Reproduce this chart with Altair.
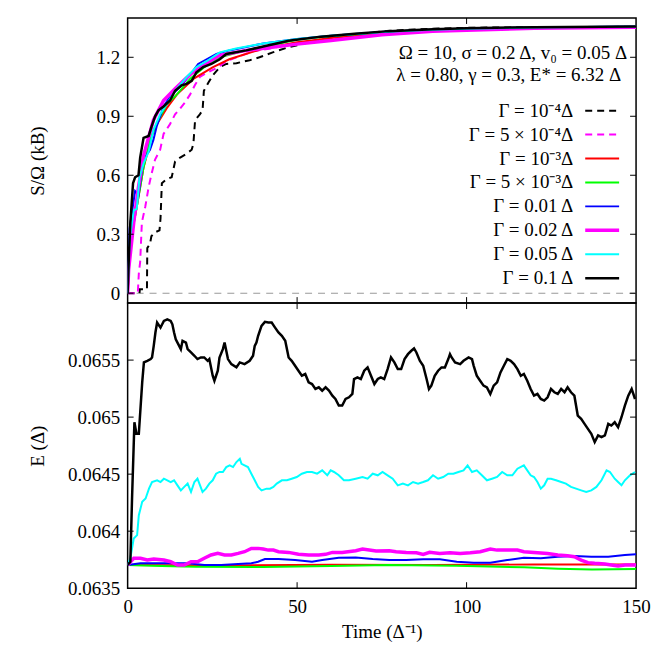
import altair as alt
import pandas as pd

FONT = "Liberation Serif"
FS = 19

# ---------------- Top panel: S/Omega (k_B) ----------------
t_s_g1 = [0, 3.5, 3.6, 5.7, 5.8, 6.6, 7.0, 8.1, 9.4, 9.7, 10.1, 11.5, 13.0, 13.5, 14.0, 15.5, 17.4, 18.9, 19.4, 19.9,
          21.3, 22.1, 22.5, 23.8, 25.2, 27.2, 29.1, 32.1, 36, 38.9, 42.8, 46.7, 57.4, 67.3, 77.2, 90, 100, 120, 150]
s_g1 = [0, 0, 0.02, 0.02, 0.23, 0.25, 0.29, 0.31, 0.32, 0.38, 0.56, 0.58, 0.59, 0.63, 0.67, 0.69, 0.71, 0.73, 0.76, 0.88,
        0.91, 0.93, 1.03, 1.07, 1.11, 1.15, 1.166, 1.17, 1.185, 1.2, 1.225, 1.247, 1.293, 1.318, 1.335, 1.345, 1.35, 1.353, 1.355]

t_s_g2 = [0, 3.0, 3.3, 3.7, 4.2, 5.2, 6.2, 7.1, 8.1, 9.6, 10.6, 12.5, 14.0, 15.5, 16.9, 18.4, 19.9, 21.3, 23.3, 26.2,
          29.1, 33, 37, 42, 47.5, 57.4, 67, 77.2, 90, 100, 120, 150]
s_g2 = [0, 0, 0.10, 0.16, 0.36, 0.44, 0.54, 0.61, 0.68, 0.73, 0.81, 0.86, 0.91, 0.94, 0.97, 1.01, 1.06, 1.10, 1.12, 1.145,
        1.18, 1.205, 1.23, 1.245, 1.262, 1.284, 1.305, 1.32, 1.335, 1.34, 1.348, 1.352]

t_s_g3 = [0, 0.8, 2.7, 4.7, 7.6, 11.5, 14.5, 19.4, 25.2, 30, 40, 50, 60, 75, 90, 100, 120, 150]
s_g3 = [0, 0.27, 0.44, 0.64, 0.83, 0.94, 1.01, 1.09, 1.15, 1.19, 1.245, 1.276, 1.298, 1.322, 1.335, 1.341, 1.349, 1.354]

t_s_g4 = [0, 0.8, 2.7, 4.7, 6.6, 8.6, 11.5, 14.5, 18.4, 23.3, 27.2, 35, 42, 50, 60, 75, 90, 100, 120, 150]
s_g4 = [0, 0.26, 0.44, 0.64, 0.78, 0.86, 0.96, 1.01, 1.09, 1.16, 1.20, 1.235, 1.26, 1.29, 1.308, 1.326, 1.338, 1.344, 1.351, 1.355]

t_s_g5 = [0, 0.6, 2.2, 3.2, 4.7, 6.6, 7.6, 8.6, 10.6, 12.5, 15.5, 18.4, 20.8, 23.3, 26.2, 30, 40, 50, 60, 75, 90, 100, 120, 150]
s_g5 = [0, 0.33, 0.52, 0.50, 0.68, 0.73, 0.78, 0.85, 0.95, 1.0, 1.05, 1.11, 1.166, 1.19, 1.217, 1.235, 1.27, 1.293, 1.31, 1.328,
        1.34, 1.345, 1.352, 1.356]

t_s_g6 = [0, 0.3, 1.8, 3.2, 4.7, 7.6, 10.6, 14.0, 17.0, 19.0, 22.3, 27.2, 35, 42, 50, 60, 75, 90, 100, 120, 150]
s_g6 = [0, 0.12, 0.36, 0.54, 0.70, 0.88, 0.98, 1.04, 1.09, 1.12, 1.16, 1.21, 1.235, 1.25, 1.267, 1.285, 1.315, 1.332, 1.338,
        1.347, 1.353]

t_s_g7 = [0, 0.4, 0.8, 1.8, 2.7, 3.5, 4.7, 6.2, 7.6, 9.6, 11.5, 14.0, 17.4, 20.3, 23.3, 27.2, 32, 40, 50, 60, 75, 90, 100, 120, 150]
s_g7 = [0, 0.2, 0.3, 0.42, 0.43, 0.59, 0.66, 0.72, 0.83, 0.91, 0.96, 1.03, 1.10, 1.15, 1.18, 1.225, 1.245, 1.27, 1.293, 1.31,
        1.328, 1.34, 1.345, 1.352, 1.356]

t_s_g8 = [0, 0.4, 0.8, 1.6, 2.2, 3.2, 3.7, 4.7, 6.2, 7.1, 8.1, 9.1, 10.6, 12.5, 14.0, 15.9, 17.4, 18.9, 20.3, 22.3, 24.7,
          27.2, 29.1, 35, 40, 47.5, 57, 67, 77, 90, 100, 120, 150]
s_g8 = [0, 0.2, 0.36, 0.56, 0.59, 0.60, 0.69, 0.79, 0.80, 0.85, 0.90, 0.93, 0.95, 0.98, 1.03, 1.057, 1.065, 1.08, 1.124, 1.15,
        1.166, 1.19, 1.217, 1.235, 1.255, 1.284, 1.305, 1.32, 1.333, 1.343, 1.348, 1.353, 1.356]

# ---------------- Bottom panel: E (Delta) ----------------
t_e_g3 = [0, 30, 60, 90, 120, 150]
e_g3 = [0.063703, 0.063700, 0.063705, 0.063703, 0.063708, 0.063708]

t_e_g4 = [0, 10, 20, 40, 60, 77, 97, 117, 127, 137, 150]
e_g4 = [0.063703, 0.063694, 0.063689, 0.063686, 0.063694, 0.063703, 0.063697, 0.063683, 0.063671, 0.063665, 0.063668]

t_e_g5 = [0, 3.8, 7.7, 12.7, 17.7, 22.6, 27.6, 32.6, 36.5, 38.5, 40.5, 44.5, 49.4, 54.4, 57.4, 62.3, 67.3, 72.3, 77.2,
          82.2, 87.2, 92.1, 97.1, 102.1, 107.0, 112.0, 116.9, 121.9, 126.9, 131.8, 136.8, 141.8, 146.7, 150]
e_g5 = [0.063703, 0.063718, 0.063718, 0.063718, 0.063718, 0.063703, 0.063703, 0.063712, 0.063718, 0.063732, 0.063756,
        0.063756, 0.063747, 0.063732, 0.063747, 0.063767, 0.063770, 0.063756, 0.063747, 0.063747, 0.063753, 0.063753,
        0.063732, 0.063724, 0.063724, 0.063747, 0.063767, 0.063762, 0.063776, 0.063782, 0.063776, 0.063776, 0.063791,
        0.063797]

t_e_g6 = [0, 1.8, 3.8, 5.8, 7.7, 10.7, 12.7, 14.7, 16.7, 18.7, 20.6, 22.6, 24.6, 26.6, 28.6, 30.6, 32.6, 34.5, 36.5,
          38.5, 40.0, 41.5, 43.0, 44.5, 47.5, 50.4, 53.4, 56.4, 58.4, 60.4, 63.3, 67.3, 69.3, 73.3, 77.2, 79.2, 82.2,
          85.2, 87.2, 89.1, 92.1, 95.1, 98.1, 101.1, 104.0, 107.0, 109.0, 112.0, 115.0, 116.9, 120.9, 123.9, 126.9,
          129.8, 131.8, 133.8, 135.8, 137.8, 140.8, 142.7, 144.7, 146.7, 150]
e_g6 = [0.063703, 0.063762, 0.063762, 0.063747, 0.063756, 0.063747, 0.063732, 0.063703, 0.063703, 0.063732, 0.063732,
        0.063762, 0.063791, 0.063805, 0.063791, 0.063791, 0.063805, 0.063820, 0.063849, 0.063849, 0.063843, 0.063834,
        0.063834, 0.063820, 0.063814, 0.063797, 0.063791, 0.063791, 0.063797, 0.063814, 0.063814, 0.063829, 0.063843,
        0.063826, 0.063829, 0.063820, 0.063814, 0.063811, 0.063797, 0.063814, 0.063805, 0.063811, 0.063805, 0.063811,
        0.063820, 0.063843, 0.063834, 0.063834, 0.063834, 0.063820, 0.063811, 0.063805, 0.063791, 0.063785, 0.063776,
        0.063747, 0.063724, 0.063718, 0.063712, 0.063703, 0.063694, 0.063703, 0.063703]

t_e_g7 = [0, 0.8, 1.8, 2.8, 3.3, 4.3, 5.3, 6.3, 7.2, 8.7, 9.7, 10.7, 11.7, 12.7, 13.7, 14.7, 15.7, 16.7, 17.7, 18.7,
          19.7, 20.6, 22.1, 23.1, 24.1, 25.1, 26.1, 27.1, 28.1, 29.1, 30.1, 31.1, 32.1, 33.1, 33.6, 34.5, 35.5, 36.5,
          37.5, 38.5, 39.5, 41.0, 42.0, 43.0, 44.0, 45.5, 47.0, 48.4, 49.9, 51.4, 52.9, 54.4, 55.9, 57.4, 58.9, 59.9,
          60.9, 62.3, 63.8, 65.3, 67.3, 69.3, 70.8, 72.3, 73.8, 75.2, 76.7, 78.2, 79.7, 81.2, 82.7, 84.2, 85.7, 87.2,
          88.6, 90.1, 91.6, 93.1, 94.6, 96.1, 97.6, 99.1, 100.3, 101.6, 103.0, 104.5, 106.0, 107.5, 109.0, 110.5, 112.0,
          113.5, 115.0, 116.9, 117.9, 118.9, 119.9, 120.9, 121.9, 122.9, 123.9, 124.9, 126.4, 127.9, 129.3, 130.8,
          132.3, 133.8, 135.3, 136.8, 138.3, 139.8, 141.3, 142.3, 143.7, 144.7, 145.7, 146.7, 148.2, 149.7]
e_g7 = [0.063703, 0.063762, 0.063936, 0.063965, 0.064140, 0.064257, 0.064286, 0.064373, 0.064431, 0.064446, 0.064431,
        0.064460, 0.064446, 0.064431, 0.064446, 0.064402, 0.064358, 0.064388, 0.064417, 0.064344, 0.064431, 0.064460,
        0.064344, 0.064373, 0.064417, 0.064446, 0.064504, 0.064519, 0.064519, 0.064562, 0.064577, 0.064562, 0.064606,
        0.064635, 0.064591, 0.064577, 0.064562, 0.064504, 0.064446, 0.064388, 0.064358, 0.064373, 0.064373, 0.064388,
        0.064417, 0.064446, 0.064446, 0.064460, 0.064475, 0.064504, 0.064519, 0.064519, 0.064504, 0.064533, 0.064490,
        0.064533, 0.064519, 0.064490, 0.064446, 0.064446, 0.064460, 0.064475, 0.064460, 0.064504, 0.064490, 0.064519,
        0.064490, 0.064460, 0.064402, 0.064417, 0.064402, 0.064431, 0.064417, 0.064431, 0.064446, 0.064490, 0.064460,
        0.064475, 0.064504, 0.064504, 0.064519, 0.064533, 0.064577, 0.064519, 0.064533, 0.064490, 0.064446, 0.064460,
        0.064475, 0.064519, 0.064490, 0.064490, 0.064548, 0.064577, 0.064533, 0.064490, 0.064475, 0.064431, 0.064373,
        0.064402, 0.064460, 0.064460, 0.064446, 0.064431, 0.064417, 0.064388, 0.064373, 0.064358, 0.064344, 0.064358,
        0.064388, 0.064446, 0.064533, 0.064519, 0.064460, 0.064431, 0.064402, 0.064446, 0.064490, 0.064519]

t_e_g8 = [0, 0.8, 1.3, 2.0, 2.6, 3.3, 4.3, 4.8, 5.8, 6.8, 7.2, 7.7, 8.2, 8.7, 9.7, 10.2, 10.7, 11.7, 12.7, 13.2, 13.7,
          14.2, 15.2, 15.7, 16.2, 17.2, 17.7, 18.7, 19.7, 20.6, 21.6, 22.6, 23.6, 24.1, 25.1, 25.6, 26.6, 27.1, 28.1,
          28.6, 29.6, 30.6, 32.1, 33.1, 34.5, 36.0, 37.0, 37.5, 38.0, 38.5, 39.5, 40.5, 41.5, 42.5, 43.5, 44.5, 45.5,
          46.5, 47.5, 48.4, 49.4, 50.4, 51.4, 52.4, 53.4, 54.4, 55.4, 56.4, 57.4, 58.4, 59.4, 60.4, 61.3, 62.3, 63.3,
          64.3, 65.3, 66.3, 66.8, 67.8, 68.8, 69.8, 70.8, 71.8, 72.8, 73.8, 74.7, 75.7, 76.7, 77.7, 78.7, 79.7, 80.7,
          81.7, 82.7, 83.7, 84.5, 85.2, 86.2, 87.2, 88.2, 88.9, 89.6, 90.6, 91.6, 92.6, 93.6, 94.6, 95.1, 95.6, 96.6,
          98.1, 99.1, 100.6, 101.6, 102.1, 103.0, 104.0, 105.0, 106.0, 107.0, 108.0, 109.0, 110.0, 111.0, 112.0,
          113.0, 114.0, 115.0, 116.0, 116.9, 117.9, 118.9, 119.9, 120.9, 121.9, 122.9, 123.9, 124.9, 125.9, 126.9,
          127.9, 128.9, 129.8, 130.8, 131.8, 132.8, 133.8, 134.8, 135.8, 136.8, 137.8, 138.8, 139.8, 140.8, 141.8,
          142.7, 143.7, 144.7, 145.7, 146.7, 147.7, 148.7, 149.7]
e_g8 = [0.063703, 0.063732, 0.064286, 0.064955, 0.064854, 0.064854, 0.065305, 0.065480, 0.065494, 0.065509, 0.065523,
        0.065625, 0.065742, 0.065829, 0.065785, 0.065814, 0.065844, 0.065858, 0.065844, 0.065814, 0.065742, 0.065683,
        0.065625, 0.065596, 0.065669, 0.065654, 0.065596, 0.065567, 0.065538, 0.065509, 0.065523, 0.065523, 0.065494,
        0.065509, 0.065363, 0.065319, 0.065407, 0.065523, 0.065596, 0.065654, 0.065509, 0.065465, 0.065436, 0.065480,
        0.065465, 0.065494, 0.065538, 0.065625, 0.065654, 0.065713, 0.065800, 0.065835, 0.065829, 0.065829, 0.065785,
        0.065742, 0.065713, 0.065669, 0.065523, 0.065494, 0.065450, 0.065407, 0.065363, 0.065378, 0.065305, 0.065290,
        0.065247, 0.065261, 0.065232, 0.065261, 0.065232, 0.065188, 0.065159, 0.065101, 0.065101, 0.065159, 0.065174,
        0.065203, 0.065334, 0.065349, 0.065334, 0.065407, 0.065436, 0.065363, 0.065290, 0.065334, 0.065349, 0.065334,
        0.065421, 0.065523, 0.065480, 0.065421, 0.065421, 0.065509, 0.065552, 0.065582, 0.065602, 0.065567, 0.065494,
        0.065450, 0.065334, 0.065247, 0.065276, 0.065363, 0.065407, 0.065436, 0.065436, 0.065509, 0.065552, 0.065523,
        0.065480, 0.065465, 0.065494, 0.065523, 0.065509, 0.065450, 0.065363, 0.065319, 0.065276, 0.065261, 0.065203,
        0.065276, 0.065305, 0.065392, 0.065450, 0.065509, 0.065494, 0.065465, 0.065421, 0.065363, 0.065378, 0.065319,
        0.065247, 0.065188, 0.065203, 0.065159, 0.065145, 0.065174, 0.065247, 0.065218, 0.065203, 0.065247, 0.065218,
        0.065261, 0.065218, 0.065188, 0.065014, 0.064985, 0.064941, 0.064897, 0.064854, 0.064781, 0.064839, 0.064824,
        0.064839, 0.064941, 0.064926, 0.064955, 0.064912, 0.064999, 0.065101, 0.065188, 0.065247, 0.065159]

# legend / series styling
labels = ["Γ = 10⁻⁴Δ", "Γ = 5 × 10⁻⁴Δ", "Γ = 10⁻³Δ", "Γ = 5 × 10⁻³Δ",
          "Γ = 0.01 Δ", "Γ = 0.02 Δ", "Γ = 0.05 Δ", "Γ = 0.1 Δ"]
colors = ["#000000", "#ff00ff", "#ff0000", "#00ff00", "#0000ff", "#ff00ff", "#00ffff", "#000000"]
widths = [2, 2, 2, 2, 2, 3.5, 2, 2.5]
dashes = [[7, 5], [7, 5], None, None, None, None, None, None]

top_series = [(t_s_g1, s_g1), (t_s_g2, s_g2), (t_s_g3, s_g3), (t_s_g4, s_g4),
              (t_s_g5, s_g5), (t_s_g6, s_g6), (t_s_g7, s_g7), (t_s_g8, s_g8)]
bot_series = {2: (t_e_g3, e_g3), 3: (t_e_g4, e_g4), 4: (t_e_g5, e_g5),
              5: (t_e_g6, e_g6), 6: (t_e_g7, e_g7), 7: (t_e_g8, e_g8)}

W, H = 510, 286
xs = alt.Scale(domain=[0, 150], nice=False, zero=False)
ys_top = alt.Scale(domain=[-0.05, 1.4], nice=False, zero=False)
ys_bot = alt.Scale(domain=[0.0635, 0.066], nice=False, zero=False)

AX = dict(ticks=False, domain=False, grid=False, labelFont=FONT, titleFont=FONT, labelFontSize=FS,
          titleFontSize=FS, titleFontWeight="normal", labelColor="black", titleColor="black", format=".4~f")

ax_top_y = alt.Axis(values=[0, 0.3, 0.6, 0.9, 1.2], title="S/Ω (kB)", labelPadding=8,
                    titleX=-90, titleY=H / 2, titleBaseline="middle", **AX)
ax_bot_y = alt.Axis(values=[0.0635, 0.064, 0.0645, 0.065, 0.0655], title="E (Δ)", labelPadding=8,
                    titleX=-90, titleY=H / 2, titleBaseline="middle", **AX)
ax_bot_x = alt.Axis(values=[0, 50, 100, 150], title="Time (Δ⁻¹)", labelPadding=9, titlePadding=6,
                    labelFlush=False, **AX)


def line_layer(t, v, i, xaxis, yaxis, yscale):
    df = pd.DataFrame({"t": t, "v": v})
    kw = dict(color=colors[i], strokeWidth=widths[i], clip=True)
    if dashes[i]:
        kw["strokeDash"] = dashes[i]
    return alt.Chart(df).mark_line(**kw).encode(
        x=alt.X("t:Q", scale=xs, axis=xaxis),
        y=alt.Y("v:Q", scale=yscale, axis=yaxis),
    )


def tick_layers(yvals, xaxis, yaxis, yscale):
    xt = pd.DataFrame({"t": [50, 100]})
    yt = pd.DataFrame({"v": yvals})
    return [
        alt.Chart(xt).mark_rule(color="black", strokeWidth=1).encode(
            x=alt.X("t:Q", scale=xs, axis=xaxis), y=alt.value(0), y2=alt.value(6)),
        alt.Chart(xt).mark_rule(color="black", strokeWidth=1).encode(
            x=alt.X("t:Q", scale=xs, axis=xaxis), y=alt.value(H), y2=alt.value(H - 6)),
        alt.Chart(yt).mark_rule(color="black", strokeWidth=1).encode(
            y=alt.Y("v:Q", scale=yscale, axis=yaxis), x=alt.value(0), x2=alt.value(6)),
        alt.Chart(yt).mark_rule(color="black", strokeWidth=1).encode(
            y=alt.Y("v:Q", scale=yscale, axis=yaxis), x=alt.value(W), x2=alt.value(W - 6)),
    ]


one = pd.DataFrame({"a": [0]})

# top panel layers
top_layers = []
zero = pd.DataFrame({"v": [0]})
top_layers.append(alt.Chart(zero).mark_rule(color="#999999", strokeDash=[7, 6], strokeWidth=1.2).encode(
    y=alt.Y("v:Q", scale=ys_top, axis=ax_top_y)))
for i, (t, v) in enumerate(top_series):
    top_layers.append(line_layer(t, v, i, None, ax_top_y, ys_top))
top_layers += tick_layers([0, 0.3, 0.6, 0.9, 1.2], None, ax_top_y, ys_top)

ann1 = "Ω = 10, σ = 0.2 Δ, v₀ = 0.05 Δ"
ann2 = "λ = 0.80, γ = 0.3, E* = 6.32 Δ"
top_layers.append(alt.Chart(one).mark_text(text=ann1, align="right", baseline="middle", font=FONT,
                                           fontSize=FS, color="black").encode(x=alt.value(501), y=alt.value(35)))
top_layers.append(alt.Chart(one).mark_text(text=ann2, align="right", baseline="middle", font=FONT,
                                           fontSize=FS, color="black").encode(x=alt.value(495), y=alt.value(57)))
for i, lab in enumerate(labels):
    yy = 93 + 24 * i
    top_layers.append(alt.Chart(one).mark_text(text=lab, align="right", baseline="middle", font=FONT,
                                               fontSize=FS, color="black").encode(x=alt.value(447), y=alt.value(yy)))
    kw = dict(color=colors[i], strokeWidth=widths[i])
    if dashes[i]:
        kw["strokeDash"] = dashes[i]
    top_layers.append(alt.Chart(one).mark_rule(**kw).encode(x=alt.value(459), x2=alt.value(493), y=alt.value(yy)))

top = alt.layer(*top_layers).properties(width=W, height=H)

# bottom panel layers
bot_layers = []
for i in [2, 3, 4, 5, 6, 7]:
    t, v = bot_series[i]
    bot_layers.append(line_layer(t, v, i, ax_bot_x, ax_bot_y, ys_bot))
bot_layers += tick_layers([0.064, 0.0645, 0.065, 0.0655], ax_bot_x, ax_bot_y, ys_bot)
bottom = alt.layer(*bot_layers).properties(width=W, height=H)

chart = alt.vconcat(top, bottom, spacing=0, bounds="flush").properties(
    padding={"left": 20, "top": 7, "right": 5, "bottom": 5}, background="white"
).configure_view(stroke="black", strokeWidth=1.5)

chart.save("out.html", embed_options={"renderer": "svg", "actions": False})
